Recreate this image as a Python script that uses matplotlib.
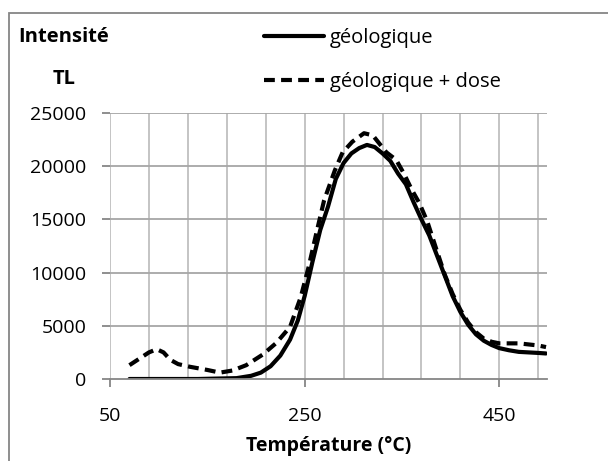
import matplotlib.pyplot as plt
from matplotlib.patches import Rectangle

plt.rcParams['font.family'] = ['Open Sans', 'DejaVu Sans']

# --- données ---
temp_geo = [70, 100, 140, 180, 195, 205, 215, 225, 235, 243, 250, 258, 266, 274,
            282, 290, 298, 306, 314, 322, 330, 338, 346, 354, 362, 370, 378, 386,
            394, 402, 410, 418, 426, 434, 442, 450, 460, 470, 480, 490, 498]
tl_geo = [0, 0, 0, 80, 300, 600, 1200, 2200, 3700, 5500, 7800, 11000, 14000, 16200,
          18800, 20300, 21200, 21700, 22000, 21800, 21200, 20500, 19300, 18300, 16600,
          15000, 13500, 11600, 9700, 7800, 6300, 5100, 4200, 3600, 3200, 2900, 2700,
          2550, 2500, 2450, 2400]

temp_dose = [70, 80, 90, 98, 105, 112, 120, 132, 150, 163, 176, 190, 207, 221, 235,
             246, 254, 262, 270, 281, 289, 299, 311, 320, 327, 334, 344, 352, 360,
             368, 376, 386, 394, 402, 410, 418, 426, 434, 442, 450, 460, 470, 480,
             490, 498]
tl_dose = [1300, 1900, 2500, 2800, 2500, 1800, 1400, 1150, 850, 600, 800, 1300, 2300,
           3400, 4900, 7700, 10500, 13700, 16800, 19600, 21300, 22300, 23100, 22900,
           22100, 21300, 20600, 19300, 17800, 16500, 14800, 12000, 9800, 8000, 6500,
           5300, 4400, 3800, 3500, 3350, 3350, 3350, 3250, 3150, 3000]

x_ticks = [50, 250, 450]
x_grid = list(range(50, 500, 40))
y_ticks = [0, 5000, 10000, 15000, 20000, 25000]

fig = plt.figure(figsize=(6.08, 4.61), dpi=100)
ax = fig.add_axes([110 / 608, 1 - 379 / 461, 437 / 608, 266 / 461])

ax.plot(temp_geo, tl_geo, color='black', lw=3.0, solid_capstyle='round',
        solid_joinstyle='round', label='géologique')
ax.plot(temp_dose, tl_dose, color='black', lw=3.0, dashes=(2.6, 1.5),
        label='géologique + dose')

ax.set_xlim(50, 499)
ax.set_ylim(0, 25000)

# quadrillage
for xv in x_grid:
    ax.axvline(xv, color='#bfbfbf', lw=1.3, zorder=0)
for yv in y_ticks[1:]:
    ax.axhline(yv, color='#a6a6a6', lw=1.3, zorder=0)

ax.set_xticks(x_ticks)
ax.set_yticks(y_ticks)
ax.tick_params(axis='both', colors='#868686', labelcolor='black', labelsize=14,
               length=6, width=1.3)
ax.tick_params(axis='x', pad=14)
ax.tick_params(axis='y', pad=11)

for s in ['top', 'right', 'left']:
    ax.spines[s].set_visible(False)
ax.spines['bottom'].set_color('#868686')
ax.spines['bottom'].set_linewidth(1.3)

ax.set_xlabel('Température (°C)', fontsize=14, fontweight='bold', va='center')
ax.xaxis.set_label_coords(0.5, -(446 - 379) / 266)

fig.text(64 / 608, 1 - 37 / 461, 'Intensité', ha='center', va='center',
         fontsize=14.5, fontweight='bold')
fig.text(64 / 608, 1 - 79 / 461, 'TL', ha='center', va='center',
         fontsize=14.5, fontweight='bold')

fig.legend(loc='upper left', bbox_to_anchor=(254 / 608, 1 - 18 / 461),
           frameon=False, fontsize=14.5, handlelength=3.0, handletextpad=0.25,
           labelspacing=1.2, borderpad=0)

# cadre extérieur
fig.patches.append(Rectangle((8.5 / 608, -0.1), 1.2, 1.1 - 13.5 / 461,
                             transform=fig.transFigure, fill=False,
                             edgecolor='#868686', lw=1.3))

fig.savefig('out.png', dpi=100)
